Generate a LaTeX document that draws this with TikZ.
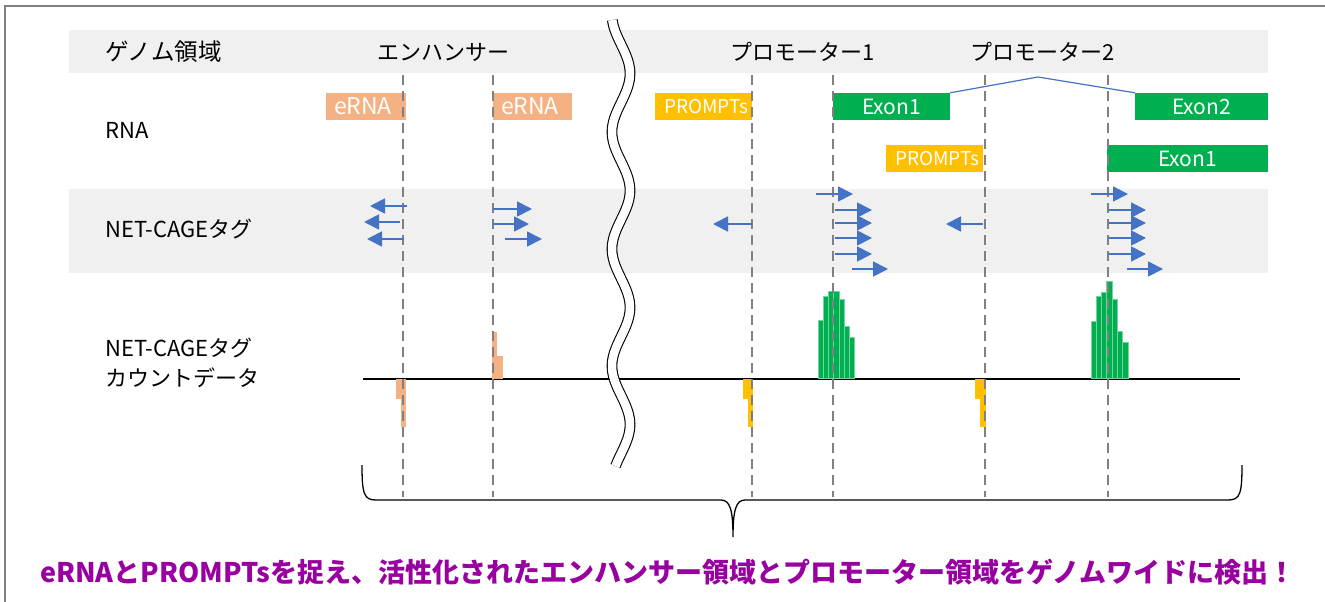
\documentclass[tikz,border=0pt]{standalone}
\usepackage{fontspec}
\setmainfont{Noto Sans CJK JP}
\usetikzlibrary{arrows.meta}
\definecolor{bandc}{RGB}{240,240,240}
\definecolor{ernac}{RGB}{244,177,131}
\definecolor{promc}{RGB}{255,192,0}
\definecolor{exonc}{RGB}{0,176,80}
\definecolor{arrc}{RGB}{68,114,196}
\definecolor{dashc}{RGB}{128,128,128}
\definecolor{titlec}{RGB}{153,0,160}
\definecolor{framec}{RGB}{128,128,128}
\begin{document}
\begin{tikzpicture}[x=1pt,y=-1pt,
  lbl/.style={anchor=west, inner sep=0pt, font=\fontsize{22}{30}\selectfont},
  hdr/.style={inner sep=0pt, font=\fontsize{22}{26}\selectfont},
  rbox/.style={inner ysep=0pt, text=white, minimum height=27pt, align=left},
  cbox/.style={inner sep=0pt, text=white, minimum height=27pt, font=\fontsize{21}{24}\selectfont},
  guide/.style={dashc, line width=2.5pt, dash pattern=on 10pt off 6pt},
  tag/.style={arrc, line width=1.8pt, -{Triangle[length=15pt,width=15pt]}},
  ebar/.style={fill=ernac},
  pbar/.style={fill=promc},
  gbar/.style={fill=exonc, draw=exonc!55!white, line width=0.6pt},
  band/.style={fill=bandc}
]
\useasboundingbox (0,0) rectangle (1325,602);
% frame
\draw[framec, line width=2pt] (5,602) -- (5,6) -- (1325,6);
% bands
\fill[band] (69,30) rectangle (1268,73);
\fill[band] (69,189) rectangle (1268,273);
% labels
\node[lbl, font=\fontsize{23.5}{30}\selectfont] (lgen) at (105,52) {ゲノム領域};
\node[lbl] (lrna) at (105,130) {RNA};
\node[lbl] (ltag) at (105,229) {NET-CAGEタグ};
\node[lbl, align=left] (lcnt) at (105,363) {NET-CAGEタグ\\カウントデータ};
\node[hdr] (henh) at (443,52) {エンハンサー};
\node[hdr] (hp1) at (803,52) {プロモーター1};
\node[hdr] (hp2) at (1043,52) {プロモーター2};
% RNA boxes
\node[rbox, fill=ernac, inner xsep=8pt, text width=64pt, font=\fontsize{23}{26}\selectfont] (er1) at (366,106.5) {eRNA};
\node[rbox, fill=ernac, inner xsep=8pt, text width=63pt, font=\fontsize{23}{26}\selectfont] (er2) at (532.5,106.5) {eRNA};
\node[rbox, fill=promc, inner xsep=9pt, text width=79pt, font=\fontsize{19}{22}\selectfont] (pr1) at (703.5,106.5) {PROMPTs};
\node[rbox, fill=promc, inner xsep=9pt, text width=79pt, font=\fontsize{19}{22}\selectfont] (pr2) at (934.5,158.5) {PROMPTs};
\node[cbox, fill=exonc, minimum width=117pt] (ex1) at (891.5,106.5) {Exon1};
\node[cbox, fill=exonc, minimum width=133pt] (ex2) at (1201.5,106.5) {Exon2};
\node[cbox, fill=exonc, minimum width=161pt] (ex3) at (1187.5,158.5) {Exon1};
\coordinate (splice) at (1038,77);
\draw[arrc, line width=1.2pt] (ex1.north east) -- (splice) -- (ex2.north west);
% axis
\draw[black, line width=2.8pt] (363,379) -- (1240,379);
% count bars
\fill[ebar] (396,379) rectangle (401,399);
\fill[ebar] (401,379) rectangle (406,427);
\fill[ebar] (492,379) rectangle (497,332);
\fill[ebar] (497,379) rectangle (503,356);
\fill[pbar] (743,379) rectangle (748,399);
\fill[pbar] (748,379) rectangle (753,427);
\fill[pbar] (975,379) rectangle (980,399);
\fill[pbar] (980,379) rectangle (986,427);
\draw[gbar] (818,378) rectangle (823,320);
\draw[gbar] (823,378) rectangle (828,296);
\draw[gbar] (828,378) rectangle (833,291);
\draw[gbar] (833,378) rectangle (839,291);
\draw[gbar] (839,378) rectangle (844,299);
\draw[gbar] (844,378) rectangle (849,326);
\draw[gbar] (849,378) rectangle (854,337);
\draw[gbar] (1091,378) rectangle (1096,321);
\draw[gbar] (1096,378) rectangle (1101,296);
\draw[gbar] (1101,378) rectangle (1106,292);
\draw[gbar] (1106,378) rectangle (1112,281);
\draw[gbar] (1112,378) rectangle (1117,299);
\draw[gbar] (1117,378) rectangle (1122,331);
\draw[gbar] (1122,378) rectangle (1128,342);
% guide lines
\foreach \gx in {403,493,752,833,985,1108}
  \draw[guide] (\gx,75) -- (\gx,497);
% NET-CAGE tags
\draw[tag] (407,206) -- (370,206);
\draw[tag] (400,222) -- (364,222);
\draw[tag] (404,239) -- (367,239);
\draw[tag] (493,209) -- (532,209);
\draw[tag] (493,224) -- (529,224);
\draw[tag] (505,239) -- (542,239);
\draw[tag] (752,224) -- (713,224);
\draw[tag] (816,194) -- (853,194);
\draw[tag] (835,210) -- (872,210);
\draw[tag] (835,223) -- (872,223);
\draw[tag] (835,238) -- (872,238);
\draw[tag] (835,254) -- (872,254);
\draw[tag] (852,269) -- (888,269);
\draw[tag] (983,224) -- (946,224);
\draw[tag] (1091,194) -- (1128,194);
\draw[tag] (1109,210) -- (1146,210);
\draw[tag] (1109,223) -- (1146,223);
\draw[tag] (1109,238) -- (1146,238);
\draw[tag] (1109,254) -- (1146,254);
\draw[tag] (1127,269) -- (1163,269);
% wavy break
\draw[black, line width=1.1pt, double=white, double distance=8.5pt]
  plot[variable=\t, domain=20:466, samples=150, smooth] ({621-9*cos(3.0769*(\t-15))}, {\t});
% brace
\draw[black, line width=1.3pt]
  (362,465) .. controls (362,494) and (364,500) .. (376,500) -- (721,500)
  .. controls (730,500) and (733,510) .. (733,537)
  .. controls (733,510) and (736,500) .. (745,500) -- (1228,500)
  .. controls (1240,500) and (1242,494) .. (1242,465);
% conclusion
\node[inner sep=0pt, text=titlec, font=\bfseries\fontsize{27}{30}\selectfont] (concl) at (668,572)
  {eRNAとPROMPTsを捉え、活性化されたエンハンサー領域とプロモーター領域をゲノムワイドに検出！};
\end{tikzpicture}
\end{document}
